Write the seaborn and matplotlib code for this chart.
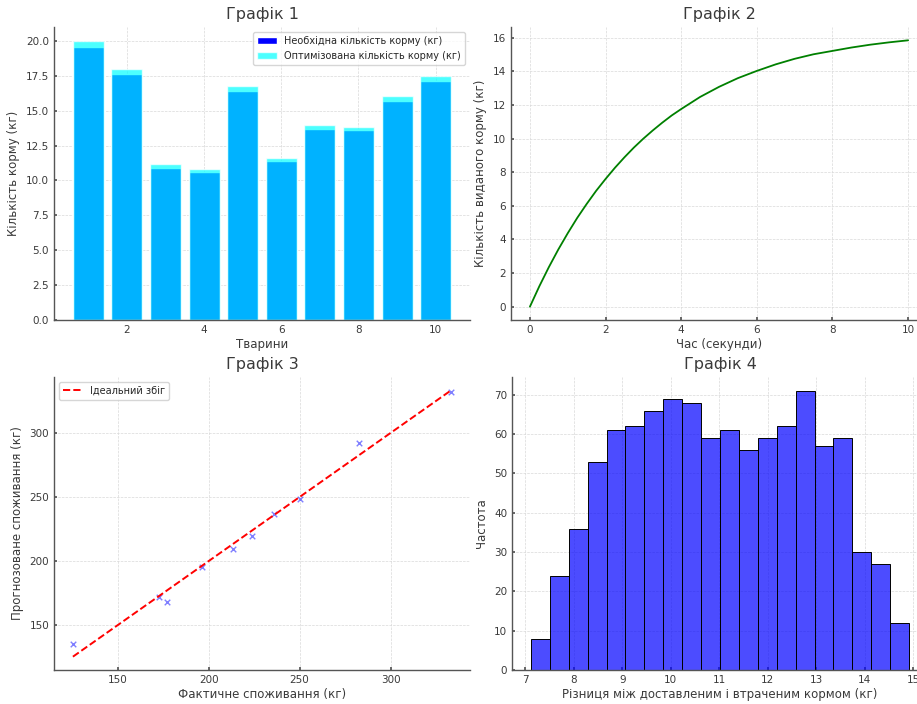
import numpy as np
import pandas as pd
import matplotlib
matplotlib.use("Agg")
import matplotlib.pyplot as plt
import seaborn as sns
from matplotlib.patches import Patch

# ---- data ----
animals = [1, 2, 3, 4, 5, 6, 7, 8, 9, 10]
required_feed = [19.6, 17.6, 10.9, 10.6, 16.4, 11.4, 13.7, 13.6, 15.7, 17.1]
optimized_feed = [20.0, 18.0, 11.15, 10.8, 16.8, 11.6, 14.0, 13.85, 16.05, 17.5]

time_s = [0, 0.25, 0.5, 0.75, 1, 1.25, 1.5, 1.75, 2, 2.25, 2.5, 2.75, 3, 3.25, 3.5, 3.75,
          4, 4.5, 5, 5.5, 6, 6.5, 7, 7.5, 8, 8.5, 9, 9.5, 10]
dispensed_feed = [0.0, 1.22, 2.35, 3.40, 4.37, 5.28, 6.11, 6.89, 7.6, 8.27, 8.89, 9.47,
                  10.0, 10.49, 10.95, 11.38, 11.76, 12.48, 13.08, 13.6, 14.03, 14.42,
                  14.75, 15.02, 15.22, 15.42, 15.59, 15.73, 15.85]

actual_consumption = [125.4, 172.6, 177.2, 196.2, 213.3, 223.9, 235.8, 250.2, 282.5, 333.3]
predicted_consumption = [135.4, 172.1, 168.0, 195.3, 209.1, 219.3, 236.5, 248.4, 292.4, 331.8]

hist_counts = [8, 24, 36, 53, 61, 62, 66, 69, 68, 59, 61, 56, 59, 62, 71, 57, 59, 30, 27, 12]
hist_start = 7.12
hist_end = 14.91

# ---- style ----
sns.set_theme(style="whitegrid")
plt.rcParams['font.family'] = ['DejaVu Sans']
txt = '#3a3a3a'
plt.rcParams.update({
    'axes.edgecolor': '#555555',
    'axes.linewidth': 1.0,
    'grid.color': '#d9d9d9',
    'grid.linestyle': '--',
    'grid.linewidth': 0.5,
    'xtick.color': '#555555',
    'ytick.color': '#555555',
    'xtick.labelcolor': txt,
    'ytick.labelcolor': txt,
    'xtick.labelsize': 7.5,
    'ytick.labelsize': 7.5,
    'axes.labelsize': 8.5,
    'axes.labelcolor': txt,
    'axes.titlesize': 11.5,
    'axes.titlecolor': txt,
    'xtick.direction': 'in',
    'ytick.direction': 'in',
    'xtick.major.size': 2,
    'ytick.major.size': 2,
    'xtick.bottom': True,
    'ytick.left': True,
    'legend.fontsize': 7,
})

fig = plt.figure(figsize=(9.17, 7.04), dpi=100)
W, H = 917, 704
def axpos(l, t, w, h):
    return [l / W, (H - t - h) / H, w / W, h / H]

ax1 = fig.add_axes(axpos(54, 27, 416, 293))
ax2 = fig.add_axes(axpos(511, 27, 416, 293))
ax3 = fig.add_axes(axpos(54, 377, 416, 293))
ax4 = fig.add_axes(axpos(512, 377, 416, 293))

for ax in (ax1, ax2, ax3, ax4):
    for s in ('top', 'right'):
        ax.spines[s].set_visible(False)

# ---- Graph 1 ----
df1 = pd.DataFrame({'animal': animals, 'req': required_feed, 'opt': optimized_feed})
sns.barplot(data=df1, x='animal', y='req', native_scale=True, color='blue',
            saturation=1, errorbar=None, ax=ax1, width=0.8)
sns.barplot(data=df1, x='animal', y='opt', native_scale=True, color='cyan',
            saturation=1, errorbar=None, ax=ax1, alpha=0.7, width=0.8)
ax1.set_xlim(0.11, 10.89)
ax1.set_ylim(0, 21)
ax1.set_xticks([2, 4, 6, 8, 10])
ax1.set_yticks(np.arange(0, 20.1, 2.5))
ax1.yaxis.set_major_formatter(matplotlib.ticker.FormatStrFormatter('%.1f'))
ax1.set_title('Графік 1')
ax1.set_xlabel('Тварини', labelpad=2)
ax1.set_ylabel('Кількість корму (кг)')
handles = [Patch(facecolor='blue', label='Необхідна кількість корму (кг)'),
           Patch(facecolor='cyan', alpha=0.7, label='Оптимізована кількість корму (кг)')]
ax1.legend(handles=handles, loc='upper right', frameon=True)
ax1.set_axisbelow(True)

# ---- Graph 2 ----
df2 = pd.DataFrame({'t': time_s, 'f': dispensed_feed})
sns.lineplot(data=df2, x='t', y='f', color='green', linewidth=1.3, ax=ax2)
ax2.set_title('Графік 2')
ax2.set_xlabel('Час (секунди)', labelpad=2)
ax2.set_ylabel('Кількість виданого корму (кг)')
ax2.set_yticks(np.arange(0, 17, 2))
ax2.set_xticks(np.arange(0, 11, 2))

# ---- Graph 3 ----
df3 = pd.DataFrame({'actual': actual_consumption, 'pred': predicted_consumption})
sns.scatterplot(data=df3, x='actual', y='pred', marker='x', color='blue', alpha=0.5,
                s=16, linewidth=1.0, ax=ax3)
lo, hi = min(actual_consumption), max(actual_consumption)
sns.lineplot(x=[lo, hi], y=[lo, hi], color='red', linestyle='--', linewidth=1.4,
             ax=ax3, label='Ідеальний збіг')
ax3.set_title('Графік 3')
ax3.set_xlabel('Фактичне споживання (кг)', labelpad=2)
ax3.set_ylabel('Прогнозоване споживання (кг)')
ax3.set_xticks([150, 200, 250, 300])
ax3.set_yticks([150, 200, 250, 300])
ax3.legend(loc='upper left', frameon=True)

# ---- Graph 4 ----
nb = len(hist_counts)
bw = (hist_end - hist_start) / nb
centers = [hist_start + bw * (i + 0.5) for i in range(nb)]
df4 = pd.DataFrame({'x': centers, 'w': hist_counts})
sns.histplot(data=df4, x='x', weights='w', bins=nb, binrange=(hist_start, hist_end),
             color='blue', alpha=0.7, edgecolor='black', linewidth=0.7, ax=ax4)
ax4.set_title('Графік 4')
ax4.set_xlabel('Різниця між доставленим і втраченим кормом (кг)', labelpad=2)
ax4.set_ylabel('Частота')
ax4.set_xticks(np.arange(7, 16, 1))
ax4.set_yticks(np.arange(0, 71, 10))
ax4.set_xlim(6.73, 15.30)

fig.savefig('out.png', dpi=100)
